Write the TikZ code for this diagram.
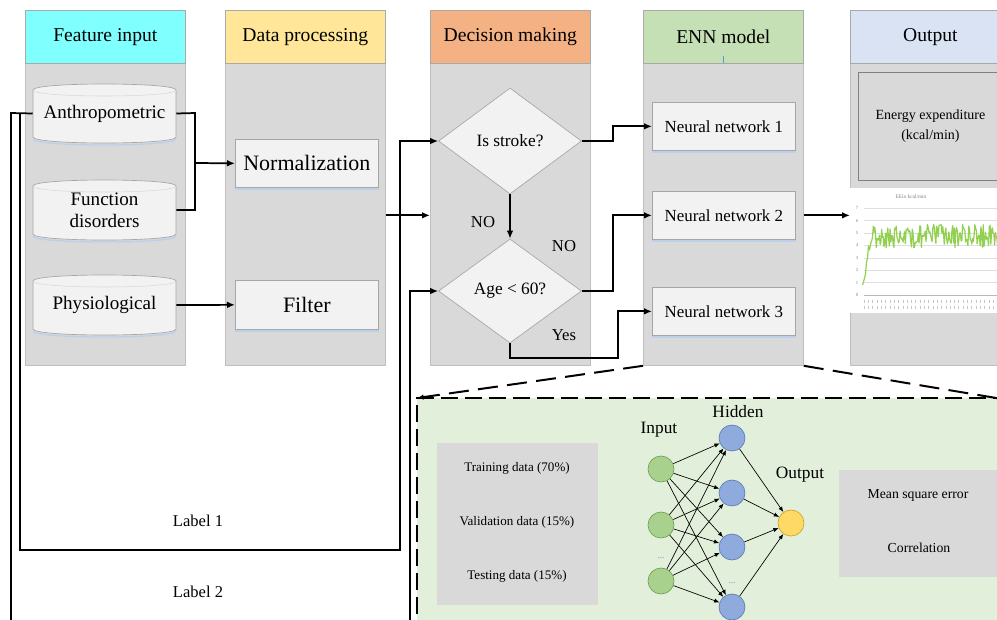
\documentclass[tikz,border=0pt]{standalone}
\usepackage{fontspec}
\setmainfont{Liberation Serif}
\usetikzlibrary{arrows.meta,shapes.geometric,calc}

\definecolor{hcyan}{HTML}{80FFFF}
\definecolor{hyellow}{HTML}{FFE699}
\definecolor{horange}{HTML}{F4B183}
\definecolor{hgreen}{HTML}{C5E0B4}
\definecolor{hblue}{HTML}{DAE3F3}
\definecolor{bodygray}{HTML}{D9D9D9}
\definecolor{bodyedge}{HTML}{BFBFBF}
\definecolor{headedge}{HTML}{A9A9A9}
\definecolor{boxfill}{HTML}{F2F2F2}
\definecolor{boxedge}{HTML}{A6A6A6}
\definecolor{shadowblue}{HTML}{BDD0EA}
\definecolor{energyedge}{HTML}{808080}
\definecolor{zoomgreen}{HTML}{E2EFDA}
\definecolor{ingreen}{HTML}{A9D18E}
\definecolor{ingreenedge}{HTML}{6E9E50}
\definecolor{hidblue}{HTML}{8FAADC}
\definecolor{hidblueedge}{HTML}{5A7AB5}
\definecolor{outyellow}{HTML}{FFD966}
\definecolor{outyellowedge}{HTML}{C9A227}
\definecolor{dotblue}{HTML}{5B9BD5}
\definecolor{plotgreen}{HTML}{92D050}

% storage-style box: name, x1, y1, x2, y2, text
\newcommand\cylnode[6]{%
  \draw[shadowblue, line width=1pt] (#2,{#5-4}) .. controls (#2,{#5+4}) and (#4,{#5+4}) .. (#4,{#5-4});
  \filldraw[fill=boxfill, draw=boxedge, line width=0.5pt]
    (#2,{#3+6}) .. controls (#2,{#3-2}) and (#4,{#3-2}) .. (#4,{#3+6})
    -- (#4,{#5-6}) .. controls (#4,{#5+2}) and (#2,{#5+2}) .. (#2,{#5-6}) -- cycle;
  \draw[boxedge!45, line width=0.4pt] (#2,{#3+6}) .. controls (#2,{#3+14}) and (#4,{#3+14}) .. (#4,{#3+6});
  \node[minimum width=107.25pt, minimum height=42pt, inner sep=0pt, align=center,
        font=\fontsize{14.3}{16.5}\selectfont] (#1) at ({(#2+#4)/2},{(#3+#5)/2}) {#6};
}

\begin{document}
\begin{tikzpicture}[x=0.75pt, y=-0.75pt,
  conn/.style={line width=1.3pt, draw=black},
  arr/.style={conn, -{Latex[length=6pt,width=5pt]}},
  colhead/.style={draw=headedge, line width=0.5pt, minimum width=120pt, minimum height=39.75pt,
                  anchor=north west, inner sep=0pt, font=\fontsize{14.7}{17}\selectfont},
  colbody/.style={draw=bodyedge, fill=bodygray, line width=0.6pt, minimum width=120pt,
                  minimum height=226.5pt, anchor=north west, inner sep=0pt},
  procbox/.style={draw=boxedge, fill=boxfill, line width=0.5pt, minimum width=107.25pt,
                  minimum height=36pt, anchor=north west, inner sep=0pt},
  decide/.style={diamond, draw=boxedge, fill=boxfill, line width=0.5pt, minimum width=107.25pt,
                 minimum height=79.5pt, inner sep=0pt, font=\fontsize{13}{15}\selectfont},
  neuron/.style={circle, minimum size=19.5pt, inner sep=0pt, line width=0.5pt},
  nnarr/.style={line width=0.5pt, -{Latex[length=4pt,width=3.2pt]}},
  plain/.style={inner sep=0pt, font=\fontsize{12.5}{15}\selectfont},
  small/.style={inner sep=0pt, font=\fontsize{9.8}{12}\selectfont},
  zoomdash/.style={line width=1.5pt, dash pattern=on 15pt off 7pt},
]
\useasboundingbox (0,0) rectangle (997,619);
\clip (0,0) rectangle (997,619);

% ---------- column bodies ----------
\node[colbody] (b1) at (25,63) {};
\node[colbody] (b2) at (225,63) {};
\node[colbody] (b3) at (430,63) {};
\node[colbody] (b4) at (643,63) {};
\node[colbody] (b5) at (850,63) {};

% ---------- column headers ----------
\node[colhead, fill=hcyan]   (h1) at (25,10)  {Feature input};
\node[colhead, fill=hyellow] (h2) at (225,10) {Data processing};
\node[colhead, fill=horange] (h3) at (430,10) {Decision making};
\node[colhead, fill=hgreen]  (h4) at (643,10) {ENN model};
\node[colhead, fill=hblue]   (h5) at (850,10) {Output};
\draw[dotblue, line width=0.6pt] (723,56) -- (723,63);

% ---------- feature input ----------
\cylnode{anthro}{33}{84}{176}{143}{Anthropometric}
\cylnode{func}{33}{180}{176}{240}{Function\\disorders}
\cylnode{phys}{33}{275}{176}{335}{Physiological}

% ---------- data processing ----------
\node[procbox, font=\fontsize{16.5}{19}\selectfont] (norm) at (235,139) {Normalization};
\node[procbox, minimum height=36.75pt, font=\fontsize{16.5}{19}\selectfont] (filt) at (235,280) {Filter};

% ---------- decision making ----------
\node[decide] (stroke) at (510,141) {Is stroke?};
\node[decide, minimum height=78pt] (age) at (510,291) {Age < 60?};
\node[plain] (no1) at (483,222) {NO};
\node[plain] (no2) at (564,246) {NO};
\node[plain] (yes) at (564,335) {Yes};

% ---------- ENN model ----------
\node[procbox, font=\fontsize{12.7}{15}\selectfont] (nn1) at (652,102) {Neural network 1};
\node[procbox, font=\fontsize{12.7}{15}\selectfont] (nn2) at (652,191) {Neural network 2};
\node[procbox, font=\fontsize{12.7}{15}\selectfont] (nn3) at (652,287) {Neural network 3};
\foreach \n in {norm,filt,nn1,nn2,nn3}
  \draw[shadowblue, line width=1pt] ([yshift=-1pt]\n.south west) -- ([yshift=-1pt]\n.south east);

% ---------- output ----------
\node[draw=energyedge, fill=bodygray, line width=0.7pt, minimum width=108pt, minimum height=81pt,
      anchor=north west, align=center, inner sep=0pt, font=\fontsize{10.5}{15}\selectfont]
      (energy) at (858,72) {Energy expenditure\\(kcal/min)};
\node[fill=white, minimum width=120pt, minimum height=93.75pt, anchor=north west, inner sep=0pt]
      (chart) at (850,188) {};
\node[inner sep=0pt, font=\fontsize{4}{5}\selectfont, text=gray] (ctitle) at (911,197) {EEin kcal/min};
\foreach \v in {1,...,7}
  \draw[gray!25, line width=0.3pt] (864,{295-12.4*\v}) -- (1000,{295-12.4*\v});
\draw[gray!55, line width=0.4pt] (864,295) -- (1000,295);
\foreach \v in {0,...,7}
  \node[inner sep=0pt, font=\fontsize{3.5}{4}\selectfont, text=gray] at (857,{295-12.4*\v}) {\v};
\foreach \t in {864,868.3,...,998}{
  \draw[gray!45, line width=0.25pt] (\t,299.5) -- (\t,302.5);
  \draw[gray!45, line width=0.25pt] (\t,305.5) -- (\t,308.5);
}
\pgfmathsetseed{23}
\draw[plotgreen, line width=0.9pt, line join=round]
  (862.5,285) -- (864,280) -- (865.5,274) -- (866.5,262) -- (867.5,258) -- (868.5,246) -- (869.5,250)
  -- plot[domain=871:1000, samples=170] (\x,{295-12.4*(4.75+0.95*rand)});

% ---------- connectors ----------
\coordinate (endA) at (11,630);
\coordinate (endB) at (410,630);
\draw[conn] (anthro.west) -- (11,113) -- (endA);
\draw[arr] (20,113) -- (20,550) -- (400,550) |- (stroke.west);
\draw[arr] (endB) |- (age.west);
\draw[conn] (anthro.east) -- (195,113) -- (195,210) -- (func.east);
\draw[arr] (195,163) -- (norm.west);
\draw[arr] (phys.east) -- (filt.west);
\draw[arr] (b2.east |- nn2.west) -- (b3.west |- nn2.west);
\draw[arr] (stroke.south) -- (age.north);
\draw[arr] (stroke.east) -- (613,141) |- (nn1.west);
\draw[arr] (age.east) -- (613,291) |- (nn2.west);
\draw[arr] (age.south) |- (618,358) |- (nn3.west);
\draw[arr] (nn2.east -| b4.east) -- (nn2.east -| chart.west);

% ---------- labels ----------
\node[plain, font=\fontsize{12.4}{15}\selectfont] (lab1) at (198,521) {Label 1};
\node[plain, font=\fontsize{12.4}{15}\selectfont] (lab2) at (198,592) {Label 2};

% ---------- ENN detail panel ----------
\fill[zoomgreen] (417,398) rectangle (1010,630);
\coordinate (zTL) at (417,398);
\coordinate (zTR) at (1010,398);
\coordinate (zBL) at (417,630);
\draw[zoomdash, -{Latex[length=5pt,width=4pt]}] (b4.south west) -- (zTL);
\draw[zoomdash] (b4.south east) -- (1010,400.3);
\draw[line width=1.5pt, dash pattern=on 13pt off 5pt] (zTR) -- (zTL) -- (zBL);

\node[fill=bodygray, minimum width=120.75pt, minimum height=121.5pt, anchor=north west, inner sep=0pt]
      (split) at (437,443) {};
\node[small] (train) at (517,468) {Training data (70\%)};
\node[small] (valid) at (517,522) {Validation data (15\%)};
\node[small] (test)  at (517,576) {Testing data (15\%)};

\node[fill=bodygray, minimum width=120pt, minimum height=80.25pt, anchor=north west, inner sep=0pt]
      (metric) at (839,470) {};
\node[small, font=\fontsize{10.3}{12}\selectfont] (mse) at (918,495) {Mean square error};
\node[small, font=\fontsize{10.3}{12}\selectfont] (corr) at (919,548) {Correlation};

% network sketch
\node[neuron, fill=ingreen, draw=ingreenedge] (i1) at (661,469) {};
\node[neuron, fill=ingreen, draw=ingreenedge] (i2) at (661,525) {};
\node[neuron, fill=ingreen, draw=ingreenedge] (i3) at (661,581) {};
\node[neuron, fill=hidblue, draw=hidblueedge] (k1) at (732,438) {};
\node[neuron, fill=hidblue, draw=hidblueedge] (k2) at (732,493) {};
\node[neuron, fill=hidblue, draw=hidblueedge] (k3) at (732,547) {};
\node[neuron, fill=hidblue, draw=hidblueedge] (k4) at (732,607) {};
\node[neuron, fill=outyellow, draw=outyellowedge] (o1) at (791,523) {};
\foreach \a in {i1,i2,i3}
  \foreach \b in {k1,k2,k3,k4}
    \draw[nnarr] (\a) -- (\b);
\foreach \b in {k1,k2,k3,k4}
  \draw[nnarr] (\b) -- (o1);
\node[inner sep=0pt, font=\fontsize{13}{15}\selectfont] (tin)  at (659,430) {Input};
\node[inner sep=0pt, font=\fontsize{13}{15}\selectfont] (thid) at (738,412) {Hidden};
\node[inner sep=0pt, font=\fontsize{13}{15}\selectfont] (tout) at (800,475) {Output};
\node[inner sep=0pt, text=dotblue, font=\fontsize{7}{8}\selectfont] (d1) at (661,558) {...};
\node[inner sep=0pt, text=dotblue, font=\fontsize{7}{8}\selectfont] (d2) at (732,583) {...};

\end{tikzpicture}
\end{document}
